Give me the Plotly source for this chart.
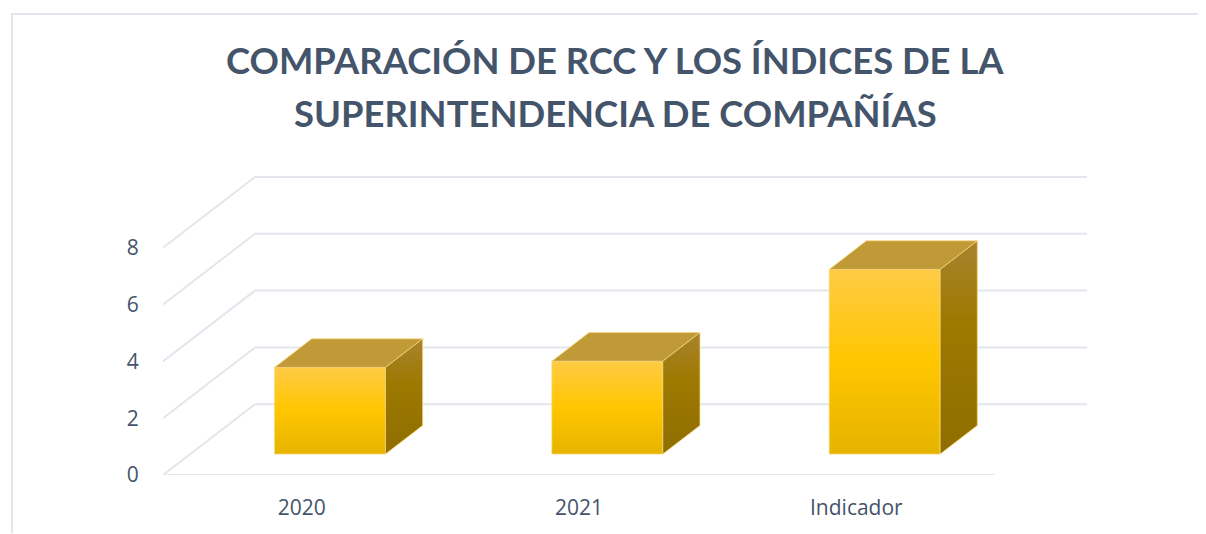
import plotly.graph_objects as go

categories = ["2020", "2021", "Indicador"]
values = [3.05, 3.27, 6.5]
y_ticks = [0, 2, 4, 6, 8]
title_lines = ["COMPARACIÓN DE RCC Y LOS ÍNDICES DE LA", "SUPERINTENDENCIA DE COMPAÑÍAS"]

TEXT = "#44546a"
GRID = "#e3e6ec"
EDGE = "rgba(250,215,120,0.75)"

# the browser page adds an 8px body margin around the figure
PAGE = 8
W, H = 1206 - PAGE, 534 - PAGE
L, R, T, B = 163 - PAGE, 100, 165.5 - PAGE, 58.5
PW, PH = W - L - R, H - T - B
PX_X = 832 / 3
PX_Y = 28.5
X_MAX = PW / PX_X
Y_MAX = PH / PX_Y

# oblique projection of the depth axis onto the plot plane
DEPTH_X = 92 / PX_X
DEPTH_Y = 71 / PX_Y


def proj(x, y, d):
    return x + d * DEPTH_X, y + d * DEPTH_Y


def poly(points, **kw):
    xs, ys = zip(*[proj(*p) for p in points])
    return go.Scatter(
        x=list(xs) + [xs[0]], y=list(ys) + [ys[0]], mode="lines", fill="toself",
        line=dict(color=EDGE, width=1), hoverinfo="skip", showlegend=False, **kw
    )


def paper_x(px):
    return (px - L) / PW


def paper_y(px):
    return (H - B - px) / PH


fig = go.Figure()

# walls and floor
n = len(categories)
for v in y_ticks:
    pts = [proj(0, v, 0), proj(0, v, 1), proj(n, v, 1)]
    fig.add_trace(go.Scatter(x=[p[0] for p in pts], y=[p[1] for p in pts], mode="lines",
                             line=dict(color=GRID, width=2), hoverinfo="skip", showlegend=False))
fig.add_trace(go.Scatter(x=[0, n], y=[0, 0], mode="lines",
                         line=dict(color=GRID, width=2), hoverinfo="skip", showlegend=False))

D0, D1 = 0.296, 0.70
BW = 0.4
for i, v in enumerate(values):
    a, b = i + 0.5 - BW / 2 + 0.004, i + 0.5 + BW / 2 + 0.004
    fig.add_trace(poly([(a, 0, D0), (b, 0, D0), (b, v, D0), (a, v, D0)],
                       fillgradient=dict(type="vertical",
                                         colorscale=[[0, "#e6b400"], [0.5, "#ffc600"], [1, "#ffcb45"]])))
    fig.add_trace(poly([(a, v, D0), (b, v, D0), (b, v, D1), (a, v, D1)],
                       fillcolor="#c19a38"))
    fig.add_trace(poly([(b, 0, D0), (b, 0, D1), (b, v, D1), (b, v, D0)],
                       fillgradient=dict(type="vertical",
                                         colorscale=[[0, "#8f6e00"], [0.6, "#9d7900"], [1, "#a8832e"]])))

title_font = dict(family="Lato", size=36.4, color=TEXT, weight="bold")
fig.update_layout(
    width=W, height=H, autosize=False,
    margin=dict(l=L, r=R, t=T, b=B),
    paper_bgcolor="white", plot_bgcolor="white",
    showlegend=False,
    font=dict(family="Open Sans", color=TEXT, size=21),
    annotations=[
        dict(text=title_lines[0], xref="paper", yref="paper", x=paper_x(615 - PAGE), y=paper_y(59.5 - PAGE),
             xanchor="center", yanchor="middle", showarrow=False, font=title_font),
        dict(text=title_lines[1], xref="paper", yref="paper", x=paper_x(615 - PAGE), y=paper_y(112.5 - PAGE),
             xanchor="center", yanchor="middle", showarrow=False, font=title_font),
    ],
    xaxis=dict(range=[0, X_MAX], tickmode="array",
               tickvals=[i + 0.5 for i in range(n)], ticktext=categories,
               showgrid=False, zeroline=False, showline=False,
               ticks="outside", ticklen=14, tickcolor="rgba(0,0,0,0)",
               tickfont=dict(size=21, color=TEXT)),
    yaxis=dict(range=[0, Y_MAX], tickmode="array", tickvals=y_ticks,
               showgrid=False, zeroline=False, showline=False,
               ticks="outside", ticklen=19, tickcolor="rgba(0,0,0,0)",
               tickfont=dict(size=21, color=TEXT)),
    shapes=[dict(type="path", xref="paper", yref="paper",
                 path=f"M {paper_x(12 - PAGE)} {paper_y(H)} L {paper_x(12 - PAGE)} {paper_y(13 - PAGE)} L {paper_x(W)} {paper_y(13 - PAGE)}",
                 line=dict(color="#e2e6ef", width=2), layer="below")],
)

fig.write_html("out.html", default_width=f"{W}px", default_height=f"{H}px")
